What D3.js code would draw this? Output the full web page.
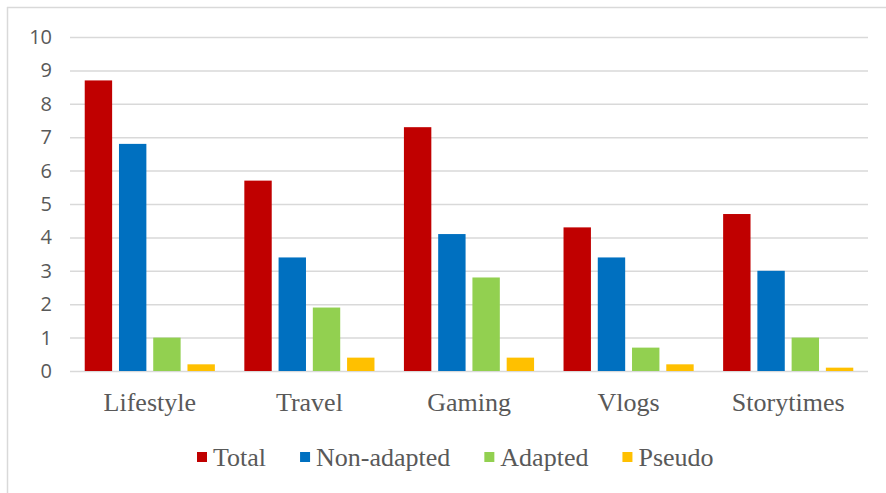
<!DOCTYPE html>
<html>
<head>
<meta charset="utf-8">
<script src="https://cdn.jsdelivr.net/npm/d3@7/dist/d3.min.js"></script>
<style>
  html, body { margin: 0; padding: 0; background: #fff; }
  svg { display: block; }
  .serif { font-family: "Liberation Serif", "Times New Roman", serif; font-size: 26px; fill: #595959; }
  .sans { font-family: "Open Sans", sans-serif; font-size: 20px; fill: #595959; }
</style>
</head>
<body>
<div id="chart"></div>
<script>
const categories = ["Lifestyle", "Travel", "Gaming", "Vlogs", "Storytimes"];
const seriesNames = ["Total", "Non-adapted", "Adapted", "Pseudo"];
const totalValues = [8.7, 5.7, 7.3, 4.3, 4.7];
const nonAdaptedValues = [6.8, 3.4, 4.1, 3.4, 3.0];
const adaptedValues = [1.0, 1.9, 2.8, 0.7, 1.0];
const pseudoValues = [0.2, 0.4, 0.4, 0.2, 0.1];
const yTicks = [0, 1, 2, 3, 4, 5, 6, 7, 8, 9, 10];
const colors = ["#C00000", "#0070C0", "#92D050", "#FFC000"];

const seriesValues = [totalValues, nonAdaptedValues, adaptedValues, pseudoValues];
const data = categories.map((c, i) => ({
  category: c,
  values: seriesNames.map((s, j) => ({ series: s, value: seriesValues[j][i] }))
}));

const W = 886, H = 493;
const svg = d3.select("#chart").append("svg").attr("width", W).attr("height", H);

// outer border (top & left visible)
svg.append("line").attr("x1", 7).attr("x2", W).attr("y1", 7.5).attr("y2", 7.5)
  .attr("stroke", "#d9d9d9").attr("stroke-width", 1.5);
svg.append("line").attr("x1", 7.5).attr("x2", 7.5).attr("y1", 7).attr("y2", H)
  .attr("stroke", "#d9d9d9").attr("stroke-width", 1.5);

const plotLeft = 70, plotRight = 868, plotTop = 37, plotBottom = 371;

const y = d3.scaleLinear().domain([0, 10]).range([plotBottom, plotTop]);
const x0 = d3.scaleBand().domain(categories).range([plotLeft, plotRight]).paddingInner(0).paddingOuter(0);
const x1 = d3.scaleBand().domain(seriesNames).range([0, x0.bandwidth()]).paddingInner(0.2).paddingOuter(0.43);
const color = d3.scaleOrdinal().domain(seriesNames).range(colors);

// gridlines
const yAxis = d3.axisLeft(y).tickValues(yTicks).tickSize(-(plotRight - plotLeft)).tickPadding(18).tickFormat(d3.format("d"));
const gy = svg.append("g").attr("transform", `translate(${plotLeft},0)`).call(yAxis);
gy.select(".domain").remove();
gy.selectAll(".tick line").attr("stroke", "#d9d9d9").attr("stroke-width", 1.5);
gy.attr("font-family", null).attr("font-size", null);
gy.selectAll(".tick text").attr("class", "sans").attr("fill", null);

// bars
const groups = svg.append("g").selectAll("g").data(data).join("g")
  .attr("transform", d => `translate(${x0(d.category)},0)`);
groups.selectAll("rect").data(d => d.values).join("rect")
  .attr("x", d => x1(d.series))
  .attr("width", x1.bandwidth())
  .attr("y", d => y(d.value))
  .attr("height", d => y(0) - y(d.value))
  .attr("fill", d => color(d.series));

// x axis labels
const xAxis = d3.axisBottom(x0).tickSize(0).tickPadding(22);
const gx = svg.append("g").attr("transform", `translate(0,${plotBottom})`).call(xAxis);
gx.select(".domain").remove();
gx.attr("font-family", null).attr("font-size", null);
gx.selectAll(".tick text").attr("class", "serif").attr("fill", null);

// legend
const legend = svg.append("g").attr("transform", "translate(197,0)");
let lx = 0;
seriesNames.forEach((s, i) => {
  const g = legend.append("g").attr("transform", `translate(${lx},0)`);
  g.append("rect").attr("x", 0).attr("y", 452).attr("width", 10).attr("height", 10).attr("fill", color(s));
  const t = g.append("text").attr("class", "serif").attr("x", 16).attr("y", 466).text(s);
  lx += 16 + t.node().getComputedTextLength() + 34;
});
</script>
</body>
</html>
